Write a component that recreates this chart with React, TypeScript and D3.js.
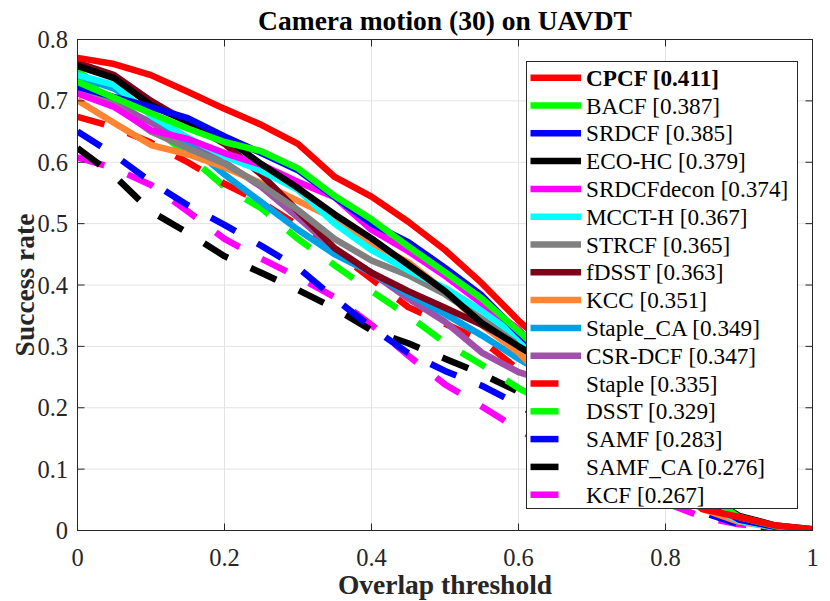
import React from 'react'
import * as d3 from 'd3'

// overlap thresholds
const thresholds = [0, 0.05, 0.1, 0.15, 0.2, 0.25, 0.3, 0.35, 0.4, 0.45, 0.5, 0.55, 0.6, 0.65, 0.7, 0.75, 0.8, 0.85, 0.9, 0.95, 1]

const names = ['CPCF', 'BACF', 'SRDCF', 'ECO-HC', 'SRDCFdecon', 'MCCT-H', 'STRCF', 'fDSST', 'KCC', 'Staple_CA', 'CSR-DCF', 'Staple', 'DSST', 'SAMF', 'SAMF_CA', 'KCF']
const scores = ['0.411', '0.387', '0.385', '0.379', '0.374', '0.367', '0.365', '0.363', '0.351', '0.349', '0.347', '0.335', '0.329', '0.283', '0.276', '0.267']
const colors = ['#ff0000', '#00ff00', '#0000ff', '#000000', '#ff00ff', '#00ffff', '#808080', '#80001a', '#ff8533', '#00a0e6', '#a050a8', '#ff0000', '#00ff00', '#0000ff', '#000000', '#ff00ff']
const dashed = [false, false, false, false, false, false, false, false, false, false, false, true, true, true, true, true]

const cpcf = [0.770, 0.760, 0.742, 0.715, 0.687, 0.661, 0.630, 0.576, 0.544, 0.503, 0.457, 0.403, 0.342, 0.29, 0.23, 0.16, 0.095, 0.035, 0.022, 0.008, 0.002]
const bacf = [0.731, 0.705, 0.680, 0.655, 0.633, 0.618, 0.590, 0.545, 0.507, 0.463, 0.421, 0.378, 0.325, 0.27, 0.215, 0.16, 0.11, 0.06, 0.022, 0.007, 0.001]
const srdcf = [0.723, 0.706, 0.690, 0.672, 0.642, 0.615, 0.587, 0.543, 0.500, 0.470, 0.428, 0.383, 0.322, 0.265, 0.205, 0.15, 0.10, 0.055, 0.018, 0.006, 0.001]
const ecohc = [0.757, 0.737, 0.693, 0.666, 0.641, 0.597, 0.558, 0.515, 0.476, 0.433, 0.390, 0.338, 0.300, 0.265, 0.21, 0.16, 0.11, 0.06, 0.024, 0.008, 0.002]
const srdcfdecon = [0.712, 0.690, 0.652, 0.638, 0.615, 0.596, 0.568, 0.543, 0.490, 0.455, 0.415, 0.370, 0.328, 0.26, 0.2, 0.14, 0.09, 0.05, 0.018, 0.006, 0.001]
const mccth = [0.742, 0.726, 0.676, 0.640, 0.610, 0.586, 0.555, 0.500, 0.457, 0.424, 0.395, 0.358, 0.315, 0.24, 0.185, 0.135, 0.085, 0.045, 0.016, 0.005, 0.001]
const strcf = [0.718, 0.693, 0.650, 0.623, 0.598, 0.563, 0.522, 0.475, 0.440, 0.416, 0.385, 0.345, 0.305, 0.27, 0.225, 0.175, 0.125, 0.07, 0.022, 0.007, 0.001]
const fdsst = [0.762, 0.742, 0.700, 0.665, 0.630, 0.580, 0.520, 0.460, 0.420, 0.390, 0.363, 0.335, 0.303, 0.255, 0.2, 0.14, 0.085, 0.045, 0.018, 0.006, 0.001]
const kcc = [0.701, 0.664, 0.628, 0.613, 0.592, 0.566, 0.537, 0.508, 0.468, 0.437, 0.390, 0.335, 0.290, 0.23, 0.17, 0.115, 0.07, 0.035, 0.014, 0.005, 0.001]
const stapleCA = [0.740, 0.720, 0.680, 0.630, 0.580, 0.535, 0.490, 0.450, 0.420, 0.385, 0.353, 0.318, 0.280, 0.245, 0.19, 0.14, 0.09, 0.05, 0.016, 0.005, 0.001]
const csrdcf = [0.715, 0.695, 0.665, 0.628, 0.600, 0.560, 0.510, 0.458, 0.420, 0.378, 0.340, 0.290, 0.258, 0.24, 0.2, 0.15, 0.1, 0.05, 0.018, 0.006, 0.001]
const staple = [0.674, 0.657, 0.632, 0.600, 0.565, 0.535, 0.497, 0.455, 0.410, 0.364, 0.337, 0.310, 0.262, 0.22, 0.18, 0.13, 0.09, 0.05, 0.018, 0.007, 0.001]
const dsst = [0.750, 0.703, 0.660, 0.612, 0.560, 0.525, 0.475, 0.432, 0.390, 0.350, 0.306, 0.270, 0.232, 0.2, 0.155, 0.115, 0.08, 0.045, 0.016, 0.006, 0.001]
const samf = [0.650, 0.612, 0.568, 0.530, 0.498, 0.464, 0.428, 0.378, 0.331, 0.289, 0.260, 0.236, 0.205, 0.17, 0.13, 0.09, 0.055, 0.03, 0.01, 0.003, 0]
const samfCA = [0.623, 0.578, 0.520, 0.485, 0.447, 0.420, 0.392, 0.362, 0.326, 0.305, 0.280, 0.255, 0.226, 0.195, 0.15, 0.105, 0.065, 0.035, 0.014, 0.004, 0]
const kcf = [0.608, 0.590, 0.563, 0.520, 0.475, 0.443, 0.413, 0.380, 0.335, 0.285, 0.238, 0.202, 0.165, 0.13, 0.10, 0.07, 0.045, 0.022, 0.01, 0.004, 0]

const series = [cpcf, bacf, srdcf, ecohc, srdcfdecon, mccth, strcf, fdsst, kcc, stapleCA, csrdcf, staple, dsst, samf, samfCA, kcf]

const xTicks = [0, 0.2, 0.4, 0.6, 0.8, 1]
const yTicks = [0, 0.1, 0.2, 0.3, 0.4, 0.5, 0.6, 0.7, 0.8]

const W = 830
const H = 601
const left = 77.5
const right = 812.5
const top = 39.5
const bottom = 530.5

const axisColor = '#262626'
const font = '"Liberation Serif", "Times New Roman", serif'

export default function App() {
  const x = d3.scaleLinear().domain([0, 1]).range([left, right])
  const y = d3.scaleLinear().domain([0, 0.8]).range([bottom, top])
  const line = d3.line<number>().x((_, i) => x(thresholds[i])).y(d => y(d))

  // legend geometry
  const lgX = 526.5
  const lgY = 61.5
  const lgW = 271
  const lgH = 447
  const rowH = 27.8

  const order = d3.range(series.length).reverse()

  return (
    <svg width={W} height={H} style={{ position: 'absolute', left: 0, top: 0, background: '#fff' }} fontFamily={font}>
      <defs>
        <clipPath id="plot">
          <rect x={left} y={top} width={right - left} height={bottom - top} />
        </clipPath>
      </defs>
      <rect x={0} y={0} width={W} height={H} fill="#fff" />

      {/* grid */}
      {xTicks.slice(1, -1).map(t => (
        <line key={'gx' + t} x1={x(t)} x2={x(t)} y1={top} y2={bottom} stroke="#e3e3e3" strokeWidth={1} />
      ))}
      {yTicks.slice(1, -1).map(t => (
        <line key={'gy' + t} x1={left} x2={right} y1={y(t)} y2={y(t)} stroke="#e3e3e3" strokeWidth={1} />
      ))}

      {/* curves */}
      <g clipPath="url(#plot)">
        {order.map(i => (
          <path
            key={names[i]}
            d={line(series[i]) || ''}
            fill="none"
            stroke={colors[i]}
            strokeWidth={6.5}
            strokeLinejoin="round"
            strokeDasharray={dashed[i] ? '28 25' : undefined}
          />
        ))}
      </g>

      {/* axes box and ticks */}
      <rect x={left} y={top} width={right - left} height={bottom - top} fill="none" stroke={axisColor} strokeWidth={1} />
      {xTicks.map(t => (
        <g key={'tx' + t}>
          <line x1={x(t)} x2={x(t)} y1={bottom} y2={bottom - 7} stroke={axisColor} />
          <line x1={x(t)} x2={x(t)} y1={top} y2={top + 7} stroke={axisColor} />
          <text x={x(t)} y={566} textAnchor="middle" fontSize={24.5} fill={axisColor}>{String(t)}</text>
        </g>
      ))}
      {yTicks.map(t => (
        <g key={'ty' + t}>
          <line x1={left} x2={left + 7} y1={y(t)} y2={y(t)} stroke={axisColor} />
          <line x1={right} x2={right - 7} y1={y(t)} y2={y(t)} stroke={axisColor} />
          <text x={68} y={y(t) + 8.5} textAnchor="end" fontSize={24.5} fill={axisColor}>{String(t)}</text>
        </g>
      ))}

      {/* labels */}
      <text x={(left + right) / 2} y={30} textAnchor="middle" fontSize={27.5} fontWeight="bold" fill="#000">
        Camera motion (30) on UAVDT
      </text>
      <text x={(left + right) / 2} y={594} textAnchor="middle" fontSize={27.5} fontWeight="bold" fill={axisColor}>
        Overlap threshold
      </text>
      <text transform={`translate(34, ${(top + bottom) / 2}) rotate(-90)`} textAnchor="middle" fontSize={27.5} fontWeight="bold" fill={axisColor}>
        Success rate
      </text>

      {/* legend */}
      <rect x={lgX} y={lgY} width={lgW} height={lgH} fill="#fff" stroke={axisColor} strokeWidth={1} />
      {names.map((n, i) => {
        const cy = 77.7 + i * rowH
        return (
          <g key={'lg' + n}>
            <line x1={530.5} x2={581} y1={cy} y2={cy} stroke={colors[i]} strokeWidth={6.5} strokeDasharray={dashed[i] ? '28 25' : undefined} />
            <text x={586} y={cy + 8} fontSize={23.2} fontWeight={i === 0 ? 'bold' : 'normal'} fill="#000">
              {`${n} [${scores[i]}]`}
            </text>
          </g>
        )
      })}
    </svg>
  )
}
